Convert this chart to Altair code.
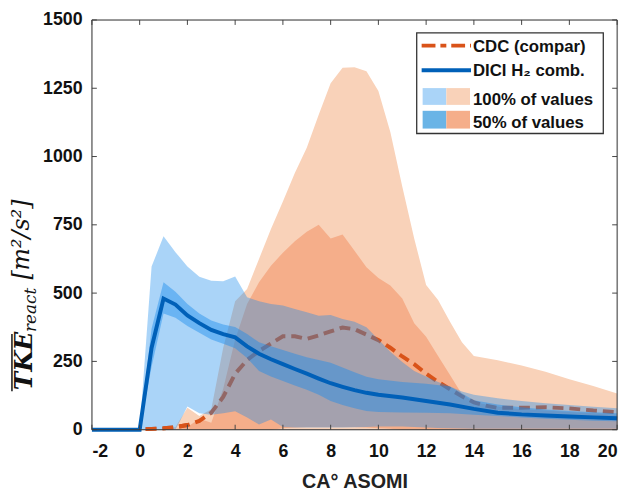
import altair as alt
import pandas as pd

# ---------------- data ----------------
X_TICKS = [-2, 0, 2, 4, 6, 8, 10, 12, 14, 16, 18, 20]
Y_TICKS = [0, 250, 500, 750, 1000, 1250, 1500]

# DICI H2 comb. (mean line)
BL_X = [-2, -1, 0, 0.5, 1, 1.5, 2, 2.5, 3, 3.5, 4, 4.5, 5, 5.5, 6, 6.5, 7, 7.5, 8, 8.5, 9, 9.5, 10, 11, 12, 13, 14, 15, 16, 17, 18, 19, 20]
BL_Y = [0, 0, 0, 300, 480, 458, 418, 390, 365, 350, 338, 305, 278, 258, 240, 222, 205, 187, 170, 157, 145, 135, 128, 118, 105, 92, 76, 62, 56, 52, 48, 45, 42]

# DICI 100% of values band
B1_X = [0, 0.5, 1, 1.5, 2, 2.5, 3, 3.5, 4, 4.5, 5, 5.5, 6, 6.5, 7, 7.5, 8, 8.5, 9, 9.5, 10, 10.5, 11, 11.5, 12, 12.5, 13, 13.5, 14, 15, 16, 17, 18, 19, 20]
B1_HI = [0, 597, 708, 650, 597, 560, 545, 543, 561, 485, 470, 460, 455, 442, 430, 417, 420, 405, 395, 375, 330, 285, 248, 215, 195, 175, 158, 140, 128, 115, 105, 97, 90, 84, 78]
B1_LO = [0, 0, 0, 0, 85, 60, 55, 60, 67, 45, 19, 37, 10, 8, 8, 8, 8, 8, 9, 10, 12, 12, 12, 10, 8, 6, 5, 4, 3, 3, 3, 3, 3, 3, 3]

# DICI 50% of values band
B5_X = [0, 0.5, 1, 1.5, 2, 2.5, 3, 3.5, 4, 4.5, 5, 5.5, 6, 6.5, 7, 7.5, 8, 8.5, 9, 9.5, 10, 11, 12, 13, 14, 15, 16, 17, 18, 19, 20]
B5_HI = [0, 370, 540, 505, 460, 425, 400, 385, 376, 350, 320, 305, 292, 278, 265, 255, 245, 228, 210, 194, 185, 175, 168, 158, 108, 92, 82, 74, 68, 64, 60]
B5_LO = [0, 230, 425, 410, 380, 355, 330, 315, 298, 262, 215, 195, 178, 162, 146, 128, 105, 90, 78, 68, 65, 63, 62, 60, 55, 50, 45, 40, 36, 33, 31]

# CDC 100% of values band
O1_X = [0, 0.5, 1, 1.5, 2, 2.5, 3, 3.5, 4, 4.5, 5, 5.5, 6, 6.5, 7, 7.5, 8, 8.5, 9, 9.5, 10, 10.5, 11, 11.5, 12, 12.5, 13, 13.5, 14, 15, 16, 17, 18, 19, 20]
O1_HI = [0, 0, 2, 10, 80, 50, 75, 300, 470, 515, 625, 735, 835, 940, 1032, 1153, 1268, 1325, 1327, 1312, 1240, 1090, 890, 700, 530, 475, 395, 320, 270, 254, 235, 212, 185, 160, 132]
O1_LO = [0] * len(O1_X)

# CDC 50% of values band
O5_HI = [0, 0, 0, 2, 10, 40, 25, 150, 330, 460, 540, 600, 648, 690, 725, 750, 700, 715, 655, 595, 555, 528, 480, 390, 340, 270, 200, 130, 100, 85, 75, 70, 65, 60, 55]
O5_LO = [0, 0, 0, 0, 0, 0, 0, 0, 0, 0, 0, 0, 5, 8, 10, 10, 10, 10, 10, 8, 5, 3, 0, 0, 0, 0, 0, 0, 0, 0, 0, 0, 0, 0, 0]

# CDC (compar) mean line
C_X = [0.25, 0.5, 1, 1.5, 2, 2.5, 3, 3.5, 4, 4.5, 5, 5.5, 6, 6.5, 7, 7.5, 8, 8.5, 9, 9.5, 10, 10.5, 11, 11.5, 12, 12.5, 13, 13.5, 14, 14.5, 15, 16, 17, 18, 19, 20]
C_Y = [2, 3, 5, 9, 17, 32, 62, 120, 205, 255, 288, 315, 342, 342, 332, 345, 360, 374, 368, 348, 328, 300, 268, 240, 205, 175, 148, 122, 100, 88, 80, 80, 82, 78, 70, 64]

LEGEND_LABELS = ["CDC (compar)", "DICI H\u2082 comb.", "100% of values", "50% of values"]

# ---------------- styling ----------------
W, H = 532, 415
BLUE = "#198bec"
BLUE_LINE = "#0060b8"
ORANGE_LINE = "#d95319"
PEACH = "#f9d2b9"
SALMON = "#f5ae8a"
FONT = "Liberation Sans"

df_bl = pd.DataFrame({"x": BL_X, "y": BL_Y})
df_b1 = pd.DataFrame({"x": B1_X, "hi": B1_HI, "lo": B1_LO})
df_b5 = pd.DataFrame({"x": B5_X, "hi": B5_HI, "lo": B5_LO})
df_o1 = pd.DataFrame({"x": O1_X, "hi": O1_HI, "lo": O1_LO})
df_o5 = pd.DataFrame({"x": O1_X, "hi": O5_HI, "lo": O5_LO})
df_c = pd.DataFrame({"x": C_X, "y": C_Y})
df_xt = pd.DataFrame({"x": X_TICKS})
df_yt = pd.DataFrame({"y": Y_TICKS})
one = alt.Data(values=[{}])

xs = alt.Scale(domain=[-2, 20], nice=False, zero=False)
ys = alt.Scale(domain=[0, 1500], nice=False)
xaxis = alt.Axis(values=X_TICKS, title="CA\u00b0 ASOMI", labelExpr="'' + datum.value",
                 labelFont=FONT, labelFontWeight="bold", labelFontSize=18, labelColor="#111",
                 labelPadding=13, titleFont=FONT, titleFontWeight="bold", titleFontSize=20,
                 titleColor="#222", titlePadding=12, domain=False, ticks=False, grid=False)
yaxis = alt.Axis(values=Y_TICKS, title="", labelExpr="'' + datum.value",
                 labelFont=FONT, labelFontWeight="bold", labelFontSize=18, labelColor="#111",
                 labelPadding=10, domain=False, ticks=False, grid=False)

X = alt.X("x:Q", scale=xs, axis=xaxis)

def Yf(f):
    return alt.Y(f"{f}:Q", scale=ys, axis=yaxis)

o1 = alt.Chart(df_o1).mark_area(color=PEACH, opacity=1).encode(x=X, y=Yf("hi"), y2="lo:Q")
o5 = alt.Chart(df_o5).mark_area(color=SALMON, opacity=1).encode(x=X, y=Yf("hi"), y2="lo:Q")
cline = alt.Chart(df_c).mark_line(color=ORANGE_LINE, strokeWidth=4, strokeDash=[11, 6]).encode(x=X, y=Yf("y"))
b1 = alt.Chart(df_b1).mark_area(color=BLUE, opacity=0.37).encode(x=X, y=Yf("hi"), y2="lo:Q")
b5 = alt.Chart(df_b5).mark_area(color=BLUE, opacity=0.44).encode(x=X, y=Yf("hi"), y2="lo:Q")
bline = alt.Chart(df_bl).mark_line(color=BLUE_LINE, strokeWidth=4).encode(x=X, y=Yf("y"))
cline_top = alt.Chart(df_c).mark_line(color=ORANGE_LINE, strokeWidth=4, strokeDash=[11, 6]).encode(
    x=X, y=Yf("y")).transform_filter(alt.datum.x <= 2.2)

TICK = 5
TCOL = "#444"
xt_b = alt.Chart(df_xt).mark_rule(color=TCOL, strokeWidth=1).encode(x=X, y=alt.value(H), y2=alt.value(H - TICK))
xt_t = alt.Chart(df_xt).mark_rule(color=TCOL, strokeWidth=1).encode(x=X, y=alt.value(0), y2=alt.value(TICK))
yt_l = alt.Chart(df_yt).mark_rule(color=TCOL, strokeWidth=1).encode(y=Yf("y"), x=alt.value(0), x2=alt.value(TICK))
yt_r = alt.Chart(df_yt).mark_rule(color=TCOL, strokeWidth=1).encode(y=Yf("y"), x=alt.value(W), x2=alt.value(W - TICK))
frame = alt.Chart(one).mark_rect(filled=False, stroke="#3a3a3a", strokeWidth=1).encode(
    x=alt.value(0), x2=alt.value(W), y=alt.value(0), y2=alt.value(H))

# ---------------- legend ----------------
leg_box = alt.Chart(one).mark_rect(fill="white", stroke="#333", strokeWidth=1.3).encode(
    x=alt.value(329), x2=alt.value(518), y=alt.value(13), y2=alt.value(115))
leg_c = alt.Chart(one).mark_rule(color=ORANGE_LINE, strokeWidth=4, strokeDash=[14, 5, 6, 5]).encode(
    x=alt.value(334), x2=alt.value(384), y=alt.value(26))
leg_b = alt.Chart(one).mark_rule(color=BLUE_LINE, strokeWidth=4).encode(
    x=alt.value(334), x2=alt.value(384), y=alt.value(51))
sw = []
for (x1, x2, y1, y2, col) in [(335, 359, 69, 86, "#aad4f8"), (359, 383, 69, 86, PEACH),
                              (335, 359, 92, 110, "#6ab4e6"), (359, 383, 92, 110, SALMON)]:
    sw.append(alt.Chart(one).mark_rect(fill=col).encode(
        x=alt.value(x1), x2=alt.value(x2), y=alt.value(y1), y2=alt.value(y2)))
leg_txt = []
for lab, yb in zip(LEGEND_LABELS, [32, 57, 86, 109]):
    leg_txt.append(alt.Chart(one).mark_text(text=lab, font=FONT, fontWeight="bold", fontSize=17,
                                            align="left", baseline="alphabetic", color="#111").encode(
        x=alt.value(386), y=alt.value(yb)))

# ---------------- y-axis title (manual, rotated) ----------------
SERIF = "DejaVu Serif"
yt1 = alt.Chart(one).mark_text(text="TKE", font=SERIF, fontStyle="italic", fontWeight="bold", fontSize=25,
                               angle=270, align="left", baseline="alphabetic", color="#111").encode(
    x=alt.value(-61), y=alt.value(375))
yt2 = alt.Chart(one).mark_text(text="react", font=SERIF, fontStyle="italic", fontSize=17,
                               angle=270, align="left", baseline="alphabetic", color="#111").encode(
    x=alt.value(-57), y=alt.value(316))
yt3 = alt.Chart(one).mark_text(text="[m\u00b2/s\u00b2]", font=SERIF, fontStyle="italic", fontSize=24,
                               angle=270, align="left", baseline="alphabetic", color="#111").encode(
    x=alt.value(-64), y=alt.value(263))
ov = alt.Chart(one).mark_rule(color="#111", strokeWidth=1.5).encode(
    x=alt.value(-81), y=alt.value(376), y2=alt.value(318))

chart = alt.layer(
    o1, o5, cline, b1, b5, bline, cline_top,
    xt_b, xt_t, yt_l, yt_r, frame,
    leg_box, leg_c, leg_b, *sw, *leg_txt,
    yt1, yt2, yt3, ov,
).properties(
    width=W, height=H,
    autosize=alt.AutoSizeParams(type="none"),
    padding={"left": 85, "top": 9, "right": 9, "bottom": 60},
).configure_view(stroke=None).configure(background="white")

chart.save("out.html", embed_options={"renderer": "svg", "actions": False})
